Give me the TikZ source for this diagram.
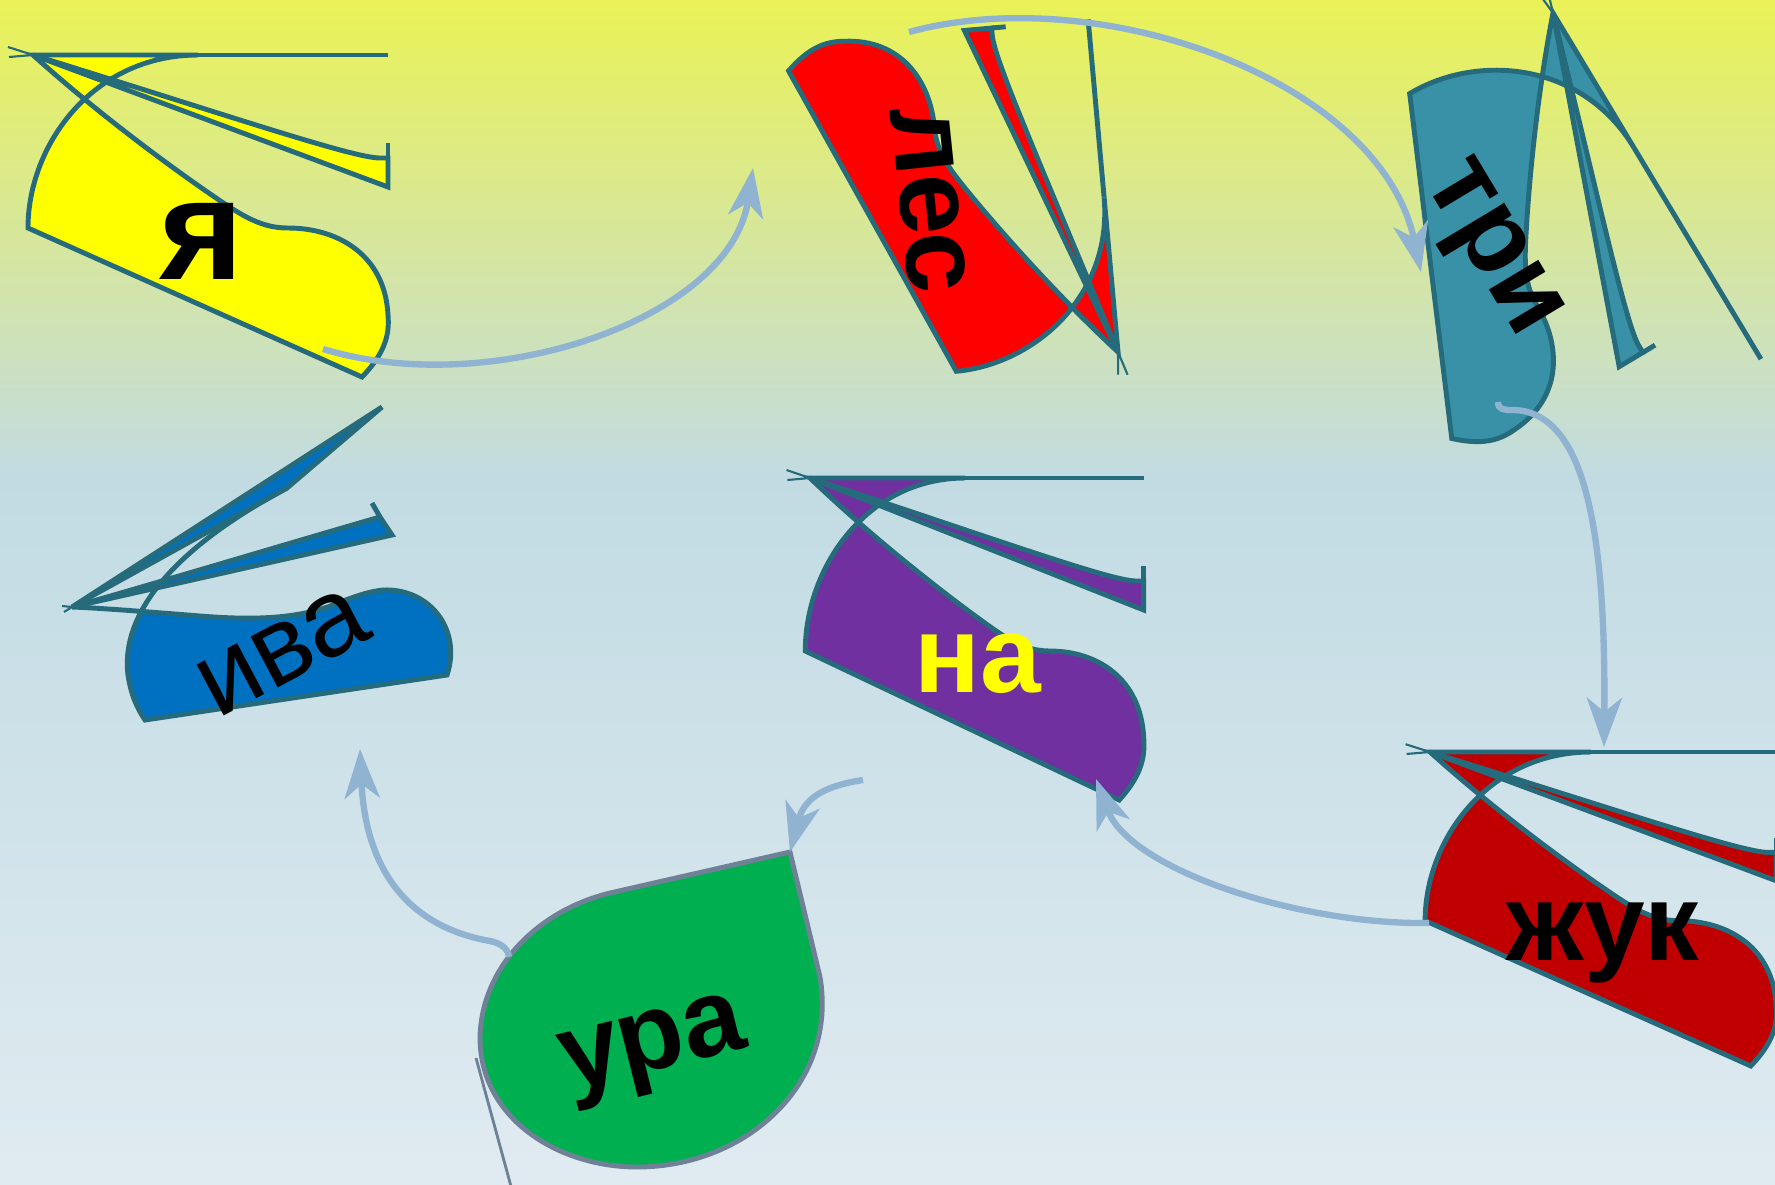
\documentclass[tikz,border=0pt]{standalone}
\usepackage{fontspec}
\setmainfont{Liberation Sans}
\usetikzlibrary{arrows.meta}
\definecolor{edgecol}{HTML}{256B7B}
\definecolor{conncol}{HTML}{8FB3D1}
\definecolor{bgtop}{HTML}{EAF256}
\definecolor{bgmid}{HTML}{C2DBE3}
\definecolor{bgbot}{HTML}{E0EBF1}
\definecolor{yafill}{HTML}{FFFF00}
\definecolor{lesfill}{HTML}{FF0000}
\definecolor{trifill}{HTML}{3891A7}
\definecolor{ivafill}{HTML}{0070C0}
\definecolor{nafill}{HTML}{7030A0}
\definecolor{zhukfill}{HTML}{C00000}
\definecolor{urafill}{HTML}{00B050}
\definecolor{uraline}{HTML}{6E8196}
\tikzset{
  shapeline/.style={draw=edgecol, line width=1.4pt},
  uraedge/.style={draw=uraline, line width=1.4pt},
  connector/.style={draw=conncol, line width=1.8pt, -{Stealth[length=14pt,width=10pt,inset=4pt]}},
  lbl/.style={font=\bfseries\fontsize{31}{31}\selectfont, inner sep=0pt, text height=16pt, text depth=0pt},
}
\newcommand{\flagbody}[2]{%
  \filldraw[shapeline, fill=#1] (0,0) -- (165,0) .. controls (60,0) and (-5,-90) .. (-5,-173)
    -- (329,-322) .. controls (350,-300) and (357,-282) .. (355,-260)
    .. controls (352,-200) and (305,-173) .. (255,-173)
    .. controls (225,-173) and (205,-158) .. (170,-134)
    .. controls (110,-92) and (50,-45) .. (0,0) -- cycle;
  \draw[shapeline] (165,0) -- (#2,0);
  \filldraw[shapeline, fill=#1] (0,0) .. controls (200,-62) and (320,-103) .. (347,-103) -- (355,-103) -- (355,-132) -- cycle;
  \draw[shapeline] (355,-88) -- (355,-103);
  \draw[shapeline, line width=0.6pt] (-25,8) -- (0,0) -- (-24,-2);
}
\begin{document}
\begin{tikzpicture}[x=0.01cm, y=0.01cm]
\useasboundingbox (0,0) rectangle (1775,-1184);
\clip (0,0) rectangle (1775,-1184);
% background
\shade[top color=bgtop, bottom color=bgmid] (0,0) rectangle (1775,-482);
\shade[top color=bgmid, bottom color=bgbot] (0,-480) rectangle (1775,-1184);

% я
\begin{scope}[shift={(33,-55)}]
  \flagbody{yafill}{355}
\end{scope}
% на
\begin{scope}[shift={(810,-478)}, xscale=0.94]
  \flagbody{nafill}{355}
\end{scope}
% жук
\begin{scope}[shift={(1430,-752)}, scale=0.975]
  \flagbody{zhukfill}{400}
\end{scope}
% три
\begin{scope}[shift={(1553,-13)}, rotate=-59, scale=0.95]
  \flagbody{trifill}{425}
\end{scope}
% лес
\begin{scope}[shift={(1118,-352)}, cm={-0.0842,0.937,0.937,0.0842,(0,0)}]
  \flagbody{lesfill}{355}
\end{scope}
% ива
\filldraw[shapeline, fill=ivafill] (72,-607) -- (382,-407) -- (287,-488) -- cycle;
\fill[ivafill] (138,-613) .. controls (126,-640) and (126,-660) .. (128,-675)
   .. controls (131,-695) and (137,-708) .. (145,-720) -- (447,-675)
   .. controls (462,-630) and (430,-588) .. (383,-590)
   .. controls (365,-592) and (352,-598) .. (340,-602)
   .. controls (300,-620) and (250,-620) .. (200,-616)
   .. controls (170,-614) and (150,-613) .. (138,-613) -- cycle;
\draw[shapeline] (287,-488) .. controls (180,-545) and (120,-610) .. (128,-675)
   .. controls (131,-695) and (137,-708) .. (145,-720) -- (447,-675)
   .. controls (462,-630) and (430,-588) .. (383,-590)
   .. controls (365,-592) and (352,-598) .. (340,-602)
   .. controls (300,-620) and (250,-620) .. (200,-616)
   .. controls (150,-612) and (100,-608) .. (72,-607);
\filldraw[shapeline, fill=ivafill] (72,-607) -- (392,-535) -- (380,-517)
   .. controls (300,-540) and (150,-585) .. (72,-607) -- cycle;
\draw[shapeline] (372,-503) -- (380,-517);
\draw[shapeline, line width=0.6pt] (64,-612) -- (72,-607) -- (62,-606);
% ура
\filldraw[uraedge, fill=urafill] (790,-852) -- (610,-893)
   .. controls (540,-910) and (482,-965) .. (480,-1037)
   .. controls (480,-1120) and (560,-1167) .. (637,-1167)
   .. controls (745,-1167) and (838,-1085) .. (820,-977) -- cycle;
\draw[uraedge, line width=0.8pt] (476,-1058) -- (512,-1190);

% labels
\node[lbl, font=\bfseries\fontsize{41}{41}\selectfont, text height=21pt] (ya) at (202,-243) {я};
\node[lbl, rotate=-84] (les) at (928,-200) {лес};
\node[lbl, rotate=-59] (tri) at (1496,-246) {три};
\node[lbl, font=\fontsize{31}{31}\selectfont, rotate=28] (iva) at (283,-653) {ива};
\node[lbl, text=yafill] (na) at (978,-664) {на};
\node[lbl] (zhuk) at (1603,-932) {жук};
\node[lbl, rotate=14] (ura) at (652,-1042) {ура};

% connector end points
\coordinate (s1) at (323,-349);  \coordinate (e1) at (753,-168);
\coordinate (s2) at (909,-32);   \coordinate (e2) at (1421,-272);
\coordinate (s3) at (1498,-402); \coordinate (e3) at (1604,-747);
\coordinate (s4) at (1429,-923); \coordinate (e4) at (1096,-779);
\coordinate (s5) at (863,-780);  \coordinate (e5) at (790,-852);
\coordinate (s6) at (509,-957);  \coordinate (e6) at (360,-749);

\draw[connector] (s1) .. controls (490,-400) and (730,-320) .. (e1);
\draw[connector] (s2) .. controls (1100,20) and (1380,-80) .. (e2);
\draw[connector] (s3) .. controls (1498,-410) and (1505,-410) .. (1512,-410)
   .. controls (1585,-410) and (1606,-530) .. (e3);
\draw[connector] (s4) .. controls (1300,-925) and (1130,-870) .. (e4);
\draw[connector] (s5) .. controls (830,-785) and (805,-795) .. (e5);
\draw[connector] (s6) .. controls (508,-948) and (500,-943) .. (490,-941)
   .. controls (400,-925) and (365,-860) .. (e6);
\end{tikzpicture}
\end{document}
